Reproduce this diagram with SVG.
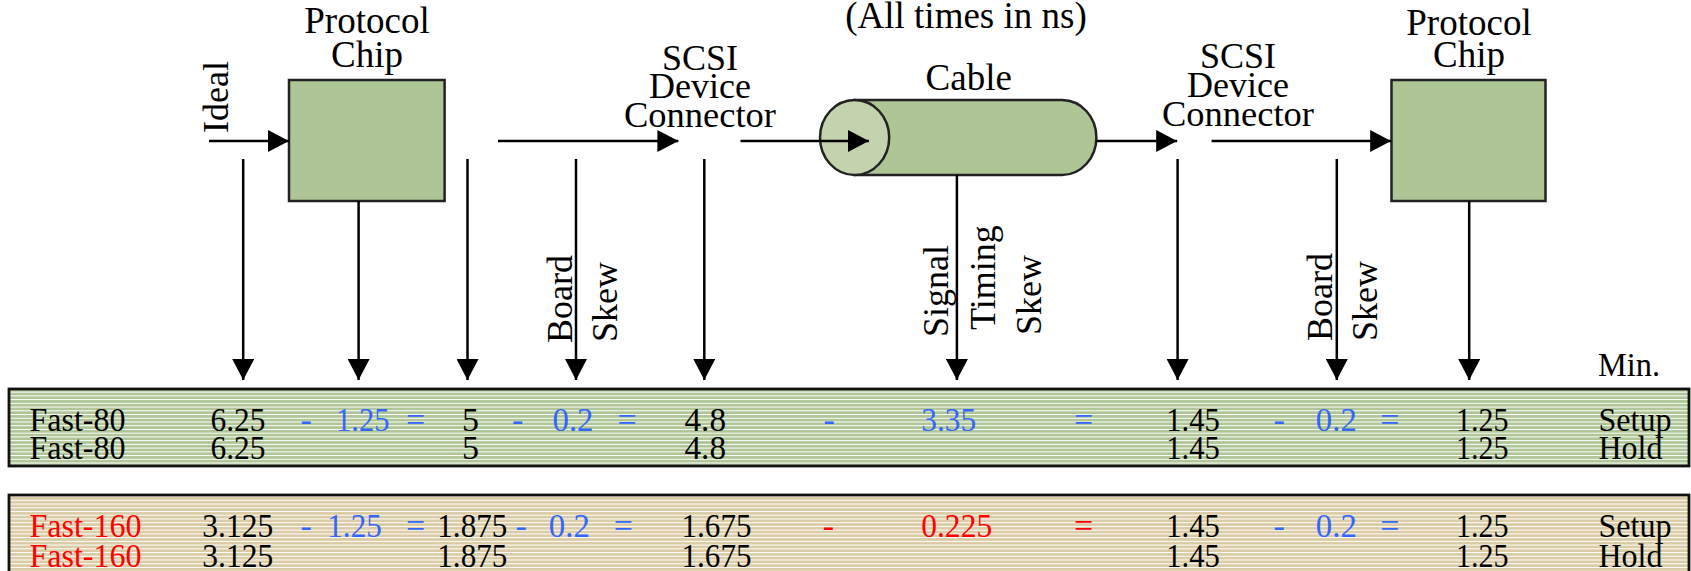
<svg xmlns="http://www.w3.org/2000/svg" width="1691" height="571" viewBox="0 0 1691 571">
<defs>
<style>
.lbl{font-family:"Liberation Serif","Times New Roman",serif;font-size:37px;fill:#000;text-anchor:middle}
.cn{font-size:36px}
.rot{font-family:"Liberation Serif","Times New Roman",serif;font-size:36px;fill:#000}
.t{font-family:"Liberation Serif","Times New Roman",serif;font-size:34px;fill:#000}
.b{fill:#3366FF}
.r{fill:#FF0000}
.box{fill:#AEC596;stroke:#222;stroke-width:2.5}
.ln{stroke:#000;stroke-width:2.5;fill:none}
.tbl{stroke:#111;stroke-width:2.8}
</style>
<marker id="ah" markerUnits="userSpaceOnUse" markerWidth="21" markerHeight="22" refX="21" refY="11" orient="auto">
<path d="M0,0 L21,11 L0,22 Z" fill="#000"/>
</marker>
<pattern id="pg" width="10" height="3.73" patternUnits="userSpaceOnUse">
<rect width="10" height="3.73" fill="#AEC596"/>
<rect width="10" height="1" fill="#FFFFFF"/>
</pattern>
<pattern id="pb" width="10" height="3.73" patternUnits="userSpaceOnUse">
<rect width="10" height="3.73" fill="#DBCBA5"/>
<rect width="10" height="1" fill="#FFFFFF"/>
</pattern>
</defs>

<text class="lbl" x="966" y="28">(All times in ns)</text>

<g id="chip1">
<rect class="box" x="289" y="80" width="155.6" height="121"/>
<text class="lbl" x="367" y="33">Protocol</text>
<text class="lbl" x="367" y="67">Chip</text>
</g>

<g id="connector1">
<text class="lbl cn" x="700" y="70">SCSI</text>
<text class="lbl cn" x="700" y="98">Device</text>
<text class="lbl cn" x="700" y="127" textLength="152" lengthAdjust="spacingAndGlyphs">Connector</text>
</g>

<g id="cable">
<path class="box" d="M854.6,100 L1062,100 A34.4,37.5 0 0 1 1062,175 L854.6,175 Z"/>
<ellipse cx="854.6" cy="137.5" rx="34.6" ry="37.5" fill="#C2D3AE" stroke="#222" stroke-width="2.5"/>
<text class="lbl" x="968.7" y="90">Cable</text>
</g>

<g id="connector2">
<text class="lbl cn" x="1238" y="68">SCSI</text>
<text class="lbl cn" x="1238" y="97">Device</text>
<text class="lbl cn" x="1238" y="126" textLength="152" lengthAdjust="spacingAndGlyphs">Connector</text>
</g>

<g id="chip2">
<rect class="box" x="1391.5" y="80" width="154" height="121"/>
<text class="lbl" x="1469" y="35">Protocol</text>
<text class="lbl" x="1469" y="67">Chip</text>
</g>

<g id="connectors">
<line class="ln" x1="209" y1="141" x2="289" y2="141" marker-end="url(#ah)"/>
<line class="ln" x1="498" y1="141" x2="678.4" y2="141" marker-end="url(#ah)"/>
<line class="ln" x1="740.5" y1="141" x2="868.9" y2="141" marker-end="url(#ah)"/>
<line class="ln" x1="1096.4" y1="141" x2="1177.2" y2="141" marker-end="url(#ah)"/>
<line class="ln" x1="1211.6" y1="141" x2="1391.2" y2="141" marker-end="url(#ah)"/>
<line class="ln" x1="243.2" y1="159" x2="243.2" y2="380" marker-end="url(#ah)"/>
<line class="ln" x1="358.6" y1="201" x2="358.6" y2="380" marker-end="url(#ah)"/>
<line class="ln" x1="467.5" y1="159" x2="467.5" y2="380" marker-end="url(#ah)"/>
<line class="ln" x1="576" y1="159" x2="576" y2="380" marker-end="url(#ah)"/>
<line class="ln" x1="704.3" y1="159" x2="704.3" y2="380" marker-end="url(#ah)"/>
<line class="ln" x1="956.9" y1="175" x2="956.9" y2="380" marker-end="url(#ah)"/>
<line class="ln" x1="1177.6" y1="159" x2="1177.6" y2="380" marker-end="url(#ah)"/>
<line class="ln" x1="1336.8" y1="159" x2="1336.8" y2="380" marker-end="url(#ah)"/>
<line class="ln" x1="1469.2" y1="201" x2="1469.2" y2="380" marker-end="url(#ah)"/>
</g>

<g id="labels">
<text class="rot" transform="translate(228,133) rotate(-90)">Ideal</text>
<text class="rot" transform="translate(572,343) rotate(-90)">Board</text>
<text class="rot" transform="translate(617,342) rotate(-90)">Skew</text>
<text class="rot" transform="translate(948,337) rotate(-90)">Signal</text>
<text class="rot" transform="translate(995,330) rotate(-90)">Timing</text>
<text class="rot" transform="translate(1041,335) rotate(-90)">Skew</text>
<text class="rot" transform="translate(1332,341) rotate(-90)">Board</text>
<text class="rot" transform="translate(1377,341) rotate(-90)">Skew</text>
<text class="t" x="1598" y="376" textLength="62" lengthAdjust="spacingAndGlyphs">Min.</text>
</g>

<g id="table-fast80">
<rect class="tbl" x="9" y="389" width="1680" height="77" fill="url(#pg)"/>
<text class="t" x="29.5" y="431" textLength="96" lengthAdjust="spacingAndGlyphs">Fast-80</text>
<text class="t" x="210.5" y="431" textLength="55" lengthAdjust="spacingAndGlyphs">6.25</text>
<text class="t b" x="300.5" y="431">-</text>
<text class="t b" x="336" y="431" textLength="53.5" lengthAdjust="spacingAndGlyphs">1.25</text>
<text class="t b" x="406" y="431">=</text>
<text class="t" x="462" y="431">5</text>
<text class="t b" x="512" y="431">-</text>
<text class="t b" x="552.5" y="431" textLength="41" lengthAdjust="spacingAndGlyphs">0.2</text>
<text class="t b" x="617.4" y="431">=</text>
<text class="t" x="684.5" y="431" textLength="41.5" lengthAdjust="spacingAndGlyphs">4.8</text>
<text class="t b" x="823.5" y="431">-</text>
<text class="t b" x="921.2" y="431" textLength="55" lengthAdjust="spacingAndGlyphs">3.35</text>
<text class="t b" x="1073.9" y="431">=</text>
<text class="t" x="1166.3" y="431" textLength="53.5" lengthAdjust="spacingAndGlyphs">1.45</text>
<text class="t b" x="1273.6" y="431">-</text>
<text class="t b" x="1315.8" y="431" textLength="41" lengthAdjust="spacingAndGlyphs">0.2</text>
<text class="t b" x="1380.2" y="431">=</text>
<text class="t" x="1456.1" y="431" textLength="52.5" lengthAdjust="spacingAndGlyphs">1.25</text>
<text class="t" x="1598.5" y="431" textLength="73" lengthAdjust="spacingAndGlyphs">Setup</text>
<text class="t" x="29.5" y="459" textLength="96" lengthAdjust="spacingAndGlyphs">Fast-80</text>
<text class="t" x="210.5" y="459" textLength="55" lengthAdjust="spacingAndGlyphs">6.25</text>
<text class="t" x="462" y="459">5</text>
<text class="t" x="684.5" y="459" textLength="41.5" lengthAdjust="spacingAndGlyphs">4.8</text>
<text class="t" x="1166.3" y="459" textLength="53.5" lengthAdjust="spacingAndGlyphs">1.45</text>
<text class="t" x="1456.1" y="459" textLength="52.5" lengthAdjust="spacingAndGlyphs">1.25</text>
<text class="t" x="1598.5" y="459" textLength="64" lengthAdjust="spacingAndGlyphs">Hold</text>
</g>

<g id="table-fast160">
<rect class="tbl" x="9" y="495" width="1680" height="78" fill="url(#pb)"/>
<text class="t r" x="29.5" y="537" textLength="112" lengthAdjust="spacingAndGlyphs">Fast-160</text>
<text class="t" x="202.3" y="537" textLength="71" lengthAdjust="spacingAndGlyphs">3.125</text>
<text class="t b" x="300.5" y="537">-</text>
<text class="t b" x="327.3" y="537" textLength="54.5" lengthAdjust="spacingAndGlyphs">1.25</text>
<text class="t b" x="406" y="537">=</text>
<text class="t" x="437.3" y="537" textLength="70" lengthAdjust="spacingAndGlyphs">1.875</text>
<text class="t b" x="515.5" y="537">-</text>
<text class="t b" x="548.8" y="537" textLength="41" lengthAdjust="spacingAndGlyphs">0.2</text>
<text class="t b" x="613.7" y="537">=</text>
<text class="t" x="681.5" y="537" textLength="70" lengthAdjust="spacingAndGlyphs">1.675</text>
<text class="t r" x="822.8" y="537">-</text>
<text class="t r" x="921.2" y="537" textLength="71" lengthAdjust="spacingAndGlyphs">0.225</text>
<text class="t r" x="1073.9" y="537">=</text>
<text class="t" x="1166.3" y="537" textLength="53.5" lengthAdjust="spacingAndGlyphs">1.45</text>
<text class="t b" x="1273.6" y="537">-</text>
<text class="t b" x="1315.8" y="537" textLength="41" lengthAdjust="spacingAndGlyphs">0.2</text>
<text class="t b" x="1380.2" y="537">=</text>
<text class="t" x="1456.1" y="537" textLength="52.5" lengthAdjust="spacingAndGlyphs">1.25</text>
<text class="t" x="1598.5" y="537" textLength="73" lengthAdjust="spacingAndGlyphs">Setup</text>
<text class="t r" x="29.5" y="567" textLength="112" lengthAdjust="spacingAndGlyphs">Fast-160</text>
<text class="t" x="202.3" y="567" textLength="71" lengthAdjust="spacingAndGlyphs">3.125</text>
<text class="t" x="437.3" y="567" textLength="70" lengthAdjust="spacingAndGlyphs">1.875</text>
<text class="t" x="681.5" y="567" textLength="70" lengthAdjust="spacingAndGlyphs">1.675</text>
<text class="t" x="1166.3" y="567" textLength="53.5" lengthAdjust="spacingAndGlyphs">1.45</text>
<text class="t" x="1456.1" y="567" textLength="52.5" lengthAdjust="spacingAndGlyphs">1.25</text>
<text class="t" x="1598.5" y="567" textLength="64" lengthAdjust="spacingAndGlyphs">Hold</text>
</g>
</svg>
